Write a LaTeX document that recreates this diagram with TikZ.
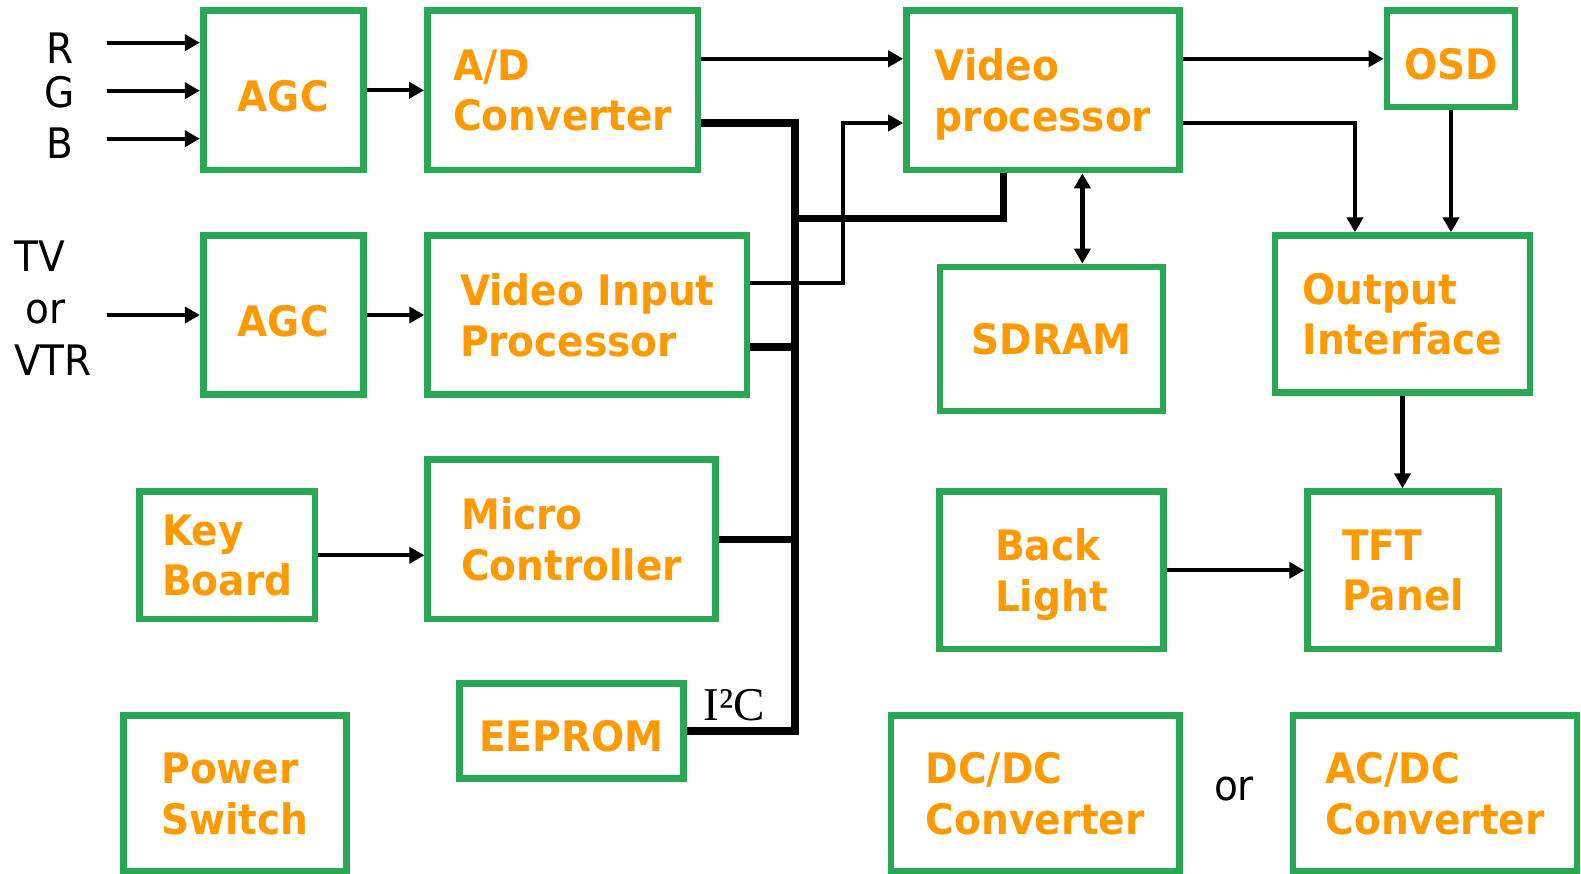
\documentclass[tikz,border=0pt]{standalone}
\usepackage{fontspec}
\usetikzlibrary{arrows.meta}
\newfontfamily\boxfont{DejaVu Sans}[FakeStretch=0.93]
\newfontfamily\busfont{Liberation Serif}
\definecolor{boxgreen}{RGB}{42,167,82}
\definecolor{lblorange}{RGB}{255,153,0}

\tikzset{
  blk/.style={draw=boxgreen, line width=6.7pt, text=lblorange, align=left,
    inner sep=0pt, text depth=0pt,
    font=\boxfont\bfseries\fontsize{42}{50.7}\selectfont},
  oneline/.style={text height=42pt},
  sig/.style={line width=4.2pt, -{Triangle[length=15pt,width=16pt]}},
  sigboth/.style={line width=4.2pt,
    {Triangle[length=15pt,width=16pt]}-{Triangle[length=15pt,width=16pt]}},
  bus/.style={line width=7.5pt},
  inlbl/.style={font=\boxfont\fontsize{42}{51.6}\selectfont, inner sep=0pt},
}

\begin{document}
\begin{tikzpicture}[x=1pt, y=-1pt]
    \useasboundingbox (0,0) rectangle (1581,874);

    \coordinate (inR) at (107.3, 42.7);
    \coordinate (inG) at (107.3, 90.7);
    \coordinate (inB) at (107.3, 138.7);
    \coordinate (inTV) at (107.3, 315);
    \coordinate (busTop) at (795, 123);
    \coordinate (vipBus) at (795, 347);
    \coordinate (vpBus) at (1003.3, 218.3);
    \coordinate (vipOut) at (843.3, 283);
    \coordinate (vpOI) at (1355, 123);
    \coordinate (ramLink) at (1082.4, 0);

    % blocks
    \node[blk, oneline, minimum width=160pt, minimum height=159.3pt] (agcrgb) at (283.2, 90.3) {AGC};
    \node[blk, minimum width=270.5pt, minimum height=159.3pt] (adc) at (562.7, 90.3) {A/D\\Converter};
    \node[blk, minimum width=273pt, minimum height=159.3pt] (vproc) at (1043, 90.3) {Video\\processor};
    \node[blk, oneline, minimum width=128pt, minimum height=96.3pt] (osd) at (1451, 58.8) {OSD};
    \node[blk, oneline, minimum width=160pt, minimum height=159pt] (agctv) at (283.2, 315) {AGC};
    \node[blk, minimum width=319.3pt, minimum height=159pt] (vinproc) at (587.3, 315) {Video Input\\Processor};
    \node[blk, minimum width=223pt, minimum height=144pt] (sdram) at (1051.5, 339) {SDRAM};
    \node[blk, minimum width=255pt, minimum height=156.5pt] (outif) at (1402.5, 314) {Output\\Interface};
    \node[blk, minimum width=175.7pt, minimum height=127.3pt] (keyb) at (227.2, 555.3) {Key\\Board};
    \node[blk, minimum width=287.6pt, minimum height=159.3pt] (mcu) at (571.5, 539.3) {Micro\\Controller};
    \node[blk, minimum width=223.6pt, minimum height=157.3pt] (backlt) at (1051.4, 570.3) {Back\\Light};
    \node[blk, minimum width=191pt, minimum height=157.3pt] (tft) at (1403.1, 570.3) {TFT\\Panel};
    \node[blk, oneline, minimum width=224pt, minimum height=95pt] (eeprom) at (571.3, 730.8) {EEPROM};
    \node[blk, minimum width=223.4pt, minimum height=155.5pt] (pwrsw) at (235, 793.5) {Power\\Switch};
    \node[blk, minimum width=288.3pt, minimum height=155.7pt] (dcdc) at (1035.2, 793.2) {DC/DC\\Converter};
    \node[blk, minimum width=284pt, minimum height=155.7pt] (acdc) at (1435, 793.2) {AC/DC\\Converter};

    % labels
    \node[inlbl, anchor=base] (lblR) at (60, 63.3) {R};
    \node[inlbl, anchor=base] (lblG) at (60, 107.8) {G};
    \node[inlbl, anchor=base] (lblB) at (59.5, 158.3) {B};
    \node[inlbl, align=left, anchor=north west] (lblTV) at (14, 241) {TV\\\hspace*{11pt}or\\VTR};
    \node[inlbl, anchor=base] (lblOr) at (1234, 800) {or};
    \node[font=\busfont\fontsize{47}{56}\selectfont, inner sep=0pt, anchor=base] (lblIIC) at (734, 720) {I²C};

    % signal arrows
    \foreach \c in {inR, inG, inB}
    \draw[sig] (\c) -- (\c -| agcrgb.west);
    \draw[sig] (inTV) -- (inTV -| agctv.west);
    \draw[sig] (agcrgb.east) -- (adc.west);
    \draw[sig] (agctv.east) -- (vinproc.west);
    \draw[sig] (keyb.east) -- (keyb.east -| mcu.west);
    \draw[sig] (adc.east |- osd.west) -- (vproc.west |- osd.west);
    \draw[sig] (vproc.east |- osd.west) -- (osd.west);
    \draw[sig] (vipOut -| vinproc.east) -- (vipOut) |- (vproc.west |- busTop);
    \draw[sig] (vproc.east |- vpOI) -| (vpOI |- outif.north);
    \draw[sig] (osd.south) -- (osd.south |- outif.north);
    \draw[sigboth] (ramLink |- vproc.south) -- (ramLink |- sdram.north);
    \draw[sig] (outif.south) -- (outif.south |- tft.north);
    \draw[sig] (backlt.east) -- (tft.west);

    % I2C bus
    \draw[bus] (eeprom.east) -| (busTop) -- (busTop -| adc.east);
    \draw[bus] (vipBus -| vinproc.east) -- (vipBus);
    \draw[bus] (mcu.east) -- (mcu.east -| busTop);
    \draw[bus] (busTop |- vpBus) -- (vpBus) -- (vpBus |- vproc.south);
\end{tikzpicture}
\end{document}
